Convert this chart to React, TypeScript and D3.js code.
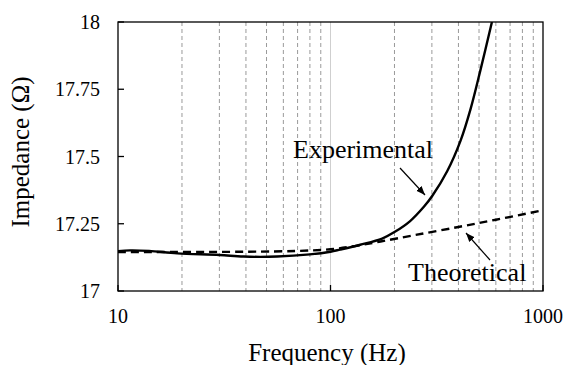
import React from "react";
import * as d3 from "d3";

const expFreq = [10, 11.4, 14, 19, 30, 39, 56, 80, 100, 111, 138, 175, 200, 237, 275, 301, 354, 409, 456, 508, 575];
const expImp = [17.148, 17.151, 17.149, 17.14, 17.134, 17.128, 17.128, 17.136, 17.146, 17.154, 17.172, 17.195, 17.219, 17.26, 17.313, 17.353, 17.445, 17.558, 17.676, 17.822, 18.0];
const theoFreq = [10, 40, 70, 100, 130, 172, 250, 400, 600, 1000];
const theoImp = [17.145, 17.146, 17.149, 17.155, 17.167, 17.184, 17.208, 17.238, 17.265, 17.3];
const yTicks = [17, 17.25, 17.5, 17.75, 18];
const yTickLabels = ["17", "17.25", "17.5", "17.75", "18"];
const xMajor = [10, 100, 1000];
const xMajorLabels = ["10", "100", "1000"];
const xMinor = [20, 30, 40, 50, 60, 70, 80, 90, 200, 300, 400, 500, 600, 700, 800, 900];

const W = 566, H = 365;
const L = 118, R = 543, T = 22, B = 291;
const FONT = "'Liberation Serif', 'Times New Roman', Times, 'DejaVu Serif', serif";

export default function App() {
  const x = d3.scaleLog().domain([10, 1000]).range([L, R]);
  const y = d3.scaleLinear().domain([17, 18]).range([B, T]);
  const line = d3.line<[number, number]>().x(d => x(d[0])).y(d => y(d[1])).curve(d3.curveCatmullRom.alpha(0.5));
  const expPts = expFreq.map((f, i) => [f, expImp[i]] as [number, number]);
  const theoPts = theoFreq.map((f, i) => [f, theoImp[i]] as [number, number]);

  return (
    <svg width={W} height={H} style={{ position: "absolute", left: 0, top: 0, background: "#fff", fontFamily: FONT }}>
      <defs>
        <marker id="ah" viewBox="0 0 10 10" refX="10" refY="5" markerWidth="9" markerHeight="9" markerUnits="userSpaceOnUse" orient="auto">
          <path d="M0,1 L10,5 L0,9 Z" fill="#000" />
        </marker>
        <clipPath id="plot"><rect x={L} y={T} width={R - L} height={B - T} /></clipPath>
      </defs>
      <rect x={0} y={0} width={W} height={H} fill="#fff" />
      {xMinor.map(f => (
        <line key={f} x1={x(f)} x2={x(f)} y1={T} y2={B} stroke="#9a9a9a" strokeWidth={1} strokeDasharray="4,3" />
      ))}
      <line x1={x(100)} x2={x(100)} y1={T} y2={B} stroke="#cfcfcf" strokeWidth={1} />
      <g clipPath="url(#plot)">
        <path d={line(theoPts) || ""} fill="none" stroke="#000" strokeWidth={2.4} strokeDasharray="8,5" />
        <path d={line(expPts) || ""} fill="none" stroke="#000" strokeWidth={2.4} />
      </g>
      <rect x={L} y={T} width={R - L} height={B - T} fill="none" stroke="#000" strokeWidth={1.3} />
      {yTicks.map(v => (
        <line key={v} x1={L} x2={L + 6} y1={y(v)} y2={y(v)} stroke="#000" strokeWidth={1.3} />
      ))}
      {xMajor.map(v => (
        <line key={v} x1={x(v)} x2={x(v)} y1={B} y2={B - 6} stroke="#000" strokeWidth={1.3} />
      ))}
      <g style={{ fontFamily: FONT }} fontSize={20} fill="#000">
        {yTicks.map((v, i) => (
          <text key={v} x={100} y={y(v) + 7} textAnchor="end">{yTickLabels[i]}</text>
        ))}
        {xMajor.map((v, i) => (
          <text key={v} x={x(v)} y={323} textAnchor="middle">{xMajorLabels[i]}</text>
        ))}
      </g>
      <g style={{ fontFamily: FONT }} fill="#000">
        <text x={327} y={361} textAnchor="middle" fontSize={25}>Frequency (Hz)</text>
        <text transform={`translate(29,152) rotate(-90)`} textAnchor="middle" fontSize={25}>Impedance (Ω)</text>
        <text x={293} y={158} fontSize={26}>Experimental</text>
        <text x={408} y={281} fontSize={26}>Theoretical</text>
      </g>
      <line x1={400} y1={168} x2={425} y2={195} stroke="#000" strokeWidth={1.2} markerEnd="url(#ah)" />
      <line x1={490} y1={260} x2={466} y2={233} stroke="#000" strokeWidth={1.2} markerEnd="url(#ah)" />
    </svg>
  );
}
